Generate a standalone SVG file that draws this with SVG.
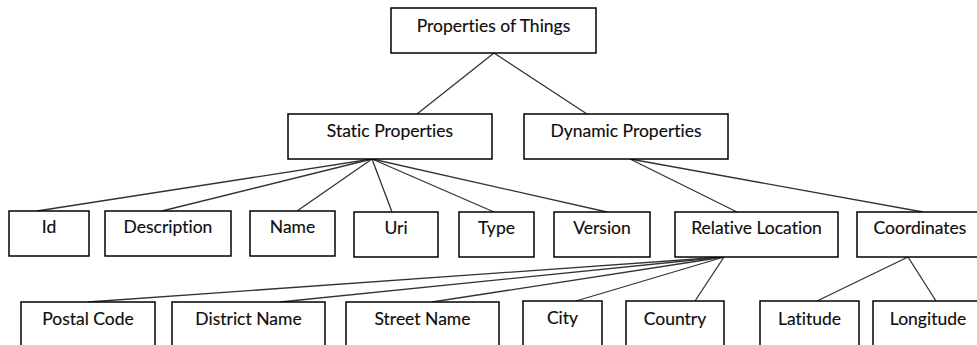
<svg xmlns="http://www.w3.org/2000/svg" width="977" height="345" viewBox="0 0 977 345">
  <style>
    .box rect { fill: #ffffff; stroke: #000000; stroke-width: 1.5; }
    .box text { font-family: Lato, "Open Sans", "Liberation Sans", sans-serif; font-size: 17.5px; fill: #0d0d0d; text-anchor: middle; font-variant-ligatures: none; stroke: #0d0d0d; stroke-width: 0.15; }
    .links line { stroke: #333333; stroke-width: 1.3; }
  </style>
  <rect width="977" height="345" fill="#ffffff"/>

  <g class="links">
    <!-- root to level 1 -->
    <line x1="494" y1="53" x2="417" y2="114"/>
    <line x1="494" y1="53" x2="587" y2="114"/>
    <!-- static properties to children -->
    <line x1="372" y1="159" x2="37" y2="211"/>
    <line x1="372" y1="159" x2="162" y2="211"/>
    <line x1="372" y1="159" x2="297" y2="211"/>
    <line x1="372" y1="159" x2="392" y2="212"/>
    <line x1="372" y1="159" x2="494" y2="212"/>
    <line x1="372" y1="159" x2="607" y2="212"/>
    <!-- dynamic properties to children -->
    <line x1="630" y1="159" x2="737" y2="212"/>
    <line x1="630" y1="159" x2="923" y2="212"/>
    <!-- relative location to children -->
    <line x1="724" y1="257" x2="88" y2="302"/>
    <line x1="724" y1="257" x2="280" y2="302"/>
    <line x1="724" y1="257" x2="432" y2="302"/>
    <line x1="724" y1="257" x2="576" y2="301"/>
    <line x1="724" y1="257" x2="695" y2="301"/>
    <!-- coordinates to children -->
    <line x1="908" y1="257" x2="817" y2="301"/>
    <line x1="908" y1="257" x2="936" y2="301"/>
  </g>

  <g id="properties-of-things" class="box">
    <rect x="391" y="8" width="205" height="45"/>
    <text x="493.5" y="32">Properties of Things</text>
  </g>

  <g id="static-properties" class="box">
    <rect x="288" y="114" width="204" height="45"/>
    <text x="390" y="137">Static Properties</text>
  </g>
  <g id="dynamic-properties" class="box">
    <rect x="524" y="114" width="204" height="45"/>
    <text x="626" y="137">Dynamic Properties</text>
  </g>

  <g id="id" class="box">
    <rect x="9" y="211" width="80" height="45"/>
    <text x="49" y="233">Id</text>
  </g>
  <g id="description" class="box">
    <rect x="105" y="211" width="126" height="45"/>
    <text x="168" y="233">Description</text>
  </g>
  <g id="name" class="box">
    <rect x="250" y="211" width="85" height="45"/>
    <text x="292.5" y="233">Name</text>
  </g>
  <g id="uri" class="box">
    <rect x="354" y="212" width="84" height="45"/>
    <text x="396" y="234">Uri</text>
  </g>
  <g id="type" class="box">
    <rect x="459" y="212" width="75" height="45"/>
    <text x="496.5" y="234">Type</text>
  </g>
  <g id="version" class="box">
    <rect x="554" y="212" width="96" height="45"/>
    <text x="602" y="234">Version</text>
  </g>
  <g id="relative-location" class="box">
    <rect x="675" y="212" width="163" height="45"/>
    <text x="756.5" y="234">Relative Location</text>
  </g>
  <g id="coordinates" class="box">
    <rect x="857" y="212" width="126" height="45"/>
    <text x="920" y="234">Coordinates</text>
  </g>

  <g id="postal-code" class="box">
    <rect x="21" y="302" width="134" height="60"/>
    <text x="88" y="325">Postal Code</text>
  </g>
  <g id="district-name" class="box">
    <rect x="172" y="302" width="153" height="60"/>
    <text x="248.5" y="325">District Name</text>
  </g>
  <g id="street-name" class="box">
    <rect x="346" y="302" width="153" height="60"/>
    <text x="422.5" y="325">Street Name</text>
  </g>
  <g id="city" class="box">
    <rect x="523" y="301" width="79" height="60"/>
    <text x="562.5" y="324">City</text>
  </g>
  <g id="country" class="box">
    <rect x="626" y="301" width="98" height="60"/>
    <text x="675" y="325">Country</text>
  </g>
  <g id="latitude" class="box">
    <rect x="760" y="301" width="99" height="60"/>
    <text x="809.5" y="325">Latitude</text>
  </g>
  <g id="longitude" class="box">
    <rect x="873" y="301" width="110" height="60"/>
    <text x="928" y="325">Longitude</text>
  </g>
</svg>
